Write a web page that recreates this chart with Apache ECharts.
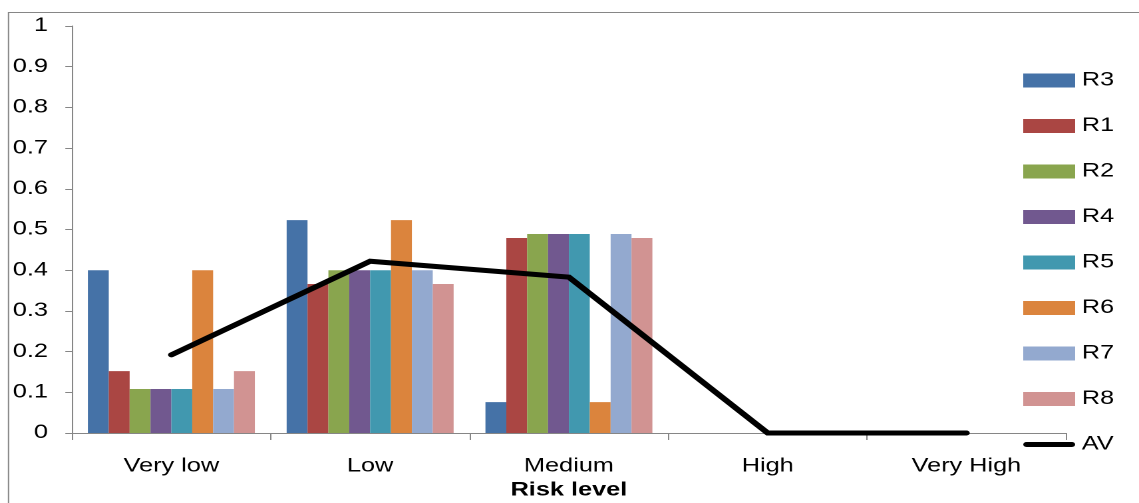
<!DOCTYPE html>
<html>
<head>
<meta charset="utf-8">
<script src="https://cdn.jsdelivr.net/npm/echarts@6/dist/echarts.min.js"></script>
<style>
  html, body { margin: 0; padding: 0; background: #fff; overflow: hidden; }
  /* The chart is laid out narrow and widened horizontally, which gives the wide lettering */
  #chart { width: 856px; height: 503px; transform: scaleX(1.3306); transform-origin: 0 0; }
</style>
</head>
<body>
<div id="chart"></div>
<script>
// Risk level categories on the x axis
const categories = ['Very low', 'Low', 'Medium', 'High', 'Very High'];

// Share of each risk level per respondent group
const R3 = [0.400, 0.523, 0.076, 0, 0];
const R1 = [0.152, 0.366, 0.479, 0, 0];
const R2 = [0.108, 0.400, 0.489, 0, 0];
const R4 = [0.108, 0.400, 0.489, 0, 0];
const R5 = [0.108, 0.400, 0.489, 0, 0];
const R6 = [0.400, 0.523, 0.076, 0, 0];
const R7 = [0.108, 0.400, 0.489, 0, 0];
const R8 = [0.152, 0.366, 0.479, 0, 0];
// Average across groups
const AV = [0.192, 0.422, 0.383, 0, 0];

const barSeries = [
  ['R3', R3, '#4572A7'],
  ['R1', R1, '#AA4643'],
  ['R2', R2, '#89A54E'],
  ['R4', R4, '#71588F'],
  ['R5', R5, '#4198AF'],
  ['R6', R6, '#DB843D'],
  ['R7', R7, '#93A9CF'],
  ['R8', R8, '#D19392']
];

const FONT = 'Liberation Sans, Arial, sans-serif';
const FONT_SIZE = 19;
const AXIS_GREY = '#868686';

const chart = echarts.init(document.getElementById('chart'), null, { renderer: 'canvas', devicePixelRatio: 2 });

const series = barSeries.map(([name, data, color]) => ({
  name,
  type: 'bar',
  data,
  barGap: '0%',
  barCategoryGap: '16%',
  itemStyle: { color },
  emphasis: { disabled: true }
}));

series.push({
  name: 'AV',
  type: 'line',
  data: AV,
  symbol: 'none',
  z: 5,
  lineStyle: { color: '#000', width: 5, cap: 'round', join: 'miter' },
  itemStyle: { color: '#000' },
  emphasis: { disabled: true }
});

const legendNames = barSeries.map(s => ({ name: s[0], icon: 'rect' }));
legendNames.push({
  name: 'AV',
  icon: 'path://M2.5,0 L36.5,0 A2.5,2.5 0 0 1 36.5,5 L2.5,5 A2.5,2.5 0 0 1 2.5,0 Z',
  itemStyle: { color: '#000' }
});

chart.setOption({
  animation: false,
  backgroundColor: '#fff',
  textStyle: { fontFamily: FONT, color: '#000' },
  grid: { left: 54.1, right: 55, top: 26, bottom: 70, containLabel: false, outerBoundsMode: 'none' },
  graphic: [{
    type: 'rect',
    shape: { x: 6.4, y: 12.5, width: 1000, height: 700 },
    style: { fill: 'none', stroke: AXIS_GREY, lineWidth: 1 },
    silent: true,
    z: -1
  }],
  legend: {
    orient: 'vertical',
    left: 764,
    top: 66,
    height: 435,
    itemWidth: 39,
    itemHeight: 14,
    itemGap: 26.5,
    textStyle: { fontFamily: FONT, fontSize: FONT_SIZE, color: '#000' },
    data: legendNames
  },
  xAxis: {
    type: 'category',
    data: categories,
    name: 'Risk level',
    nameLocation: 'middle',
    nameGap: 48,
    nameTextStyle: { fontFamily: FONT, fontSize: FONT_SIZE, fontWeight: 'bold', color: '#000' },
    axisLine: { lineStyle: { color: AXIS_GREY, width: 1 } },
    axisTick: { show: true, length: 7, alignWithLabel: false, lineStyle: { color: AXIS_GREY } },
    axisLabel: { fontFamily: FONT, fontSize: FONT_SIZE, color: '#000', margin: 24 },
    splitLine: { show: false }
  },
  yAxis: {
    type: 'value',
    min: 0,
    max: 1,
    interval: 0.1,
    axisLine: { show: true, lineStyle: { color: AXIS_GREY, width: 1 } },
    axisTick: { show: true, length: 5, lineStyle: { color: AXIS_GREY } },
    axisLabel: {
      fontFamily: FONT, fontSize: FONT_SIZE, color: '#000', margin: 18,
      formatter: v => String(Math.round(v * 10) / 10)
    },
    splitLine: { show: false }
  },
  series
});
</script>
</body>
</html>
